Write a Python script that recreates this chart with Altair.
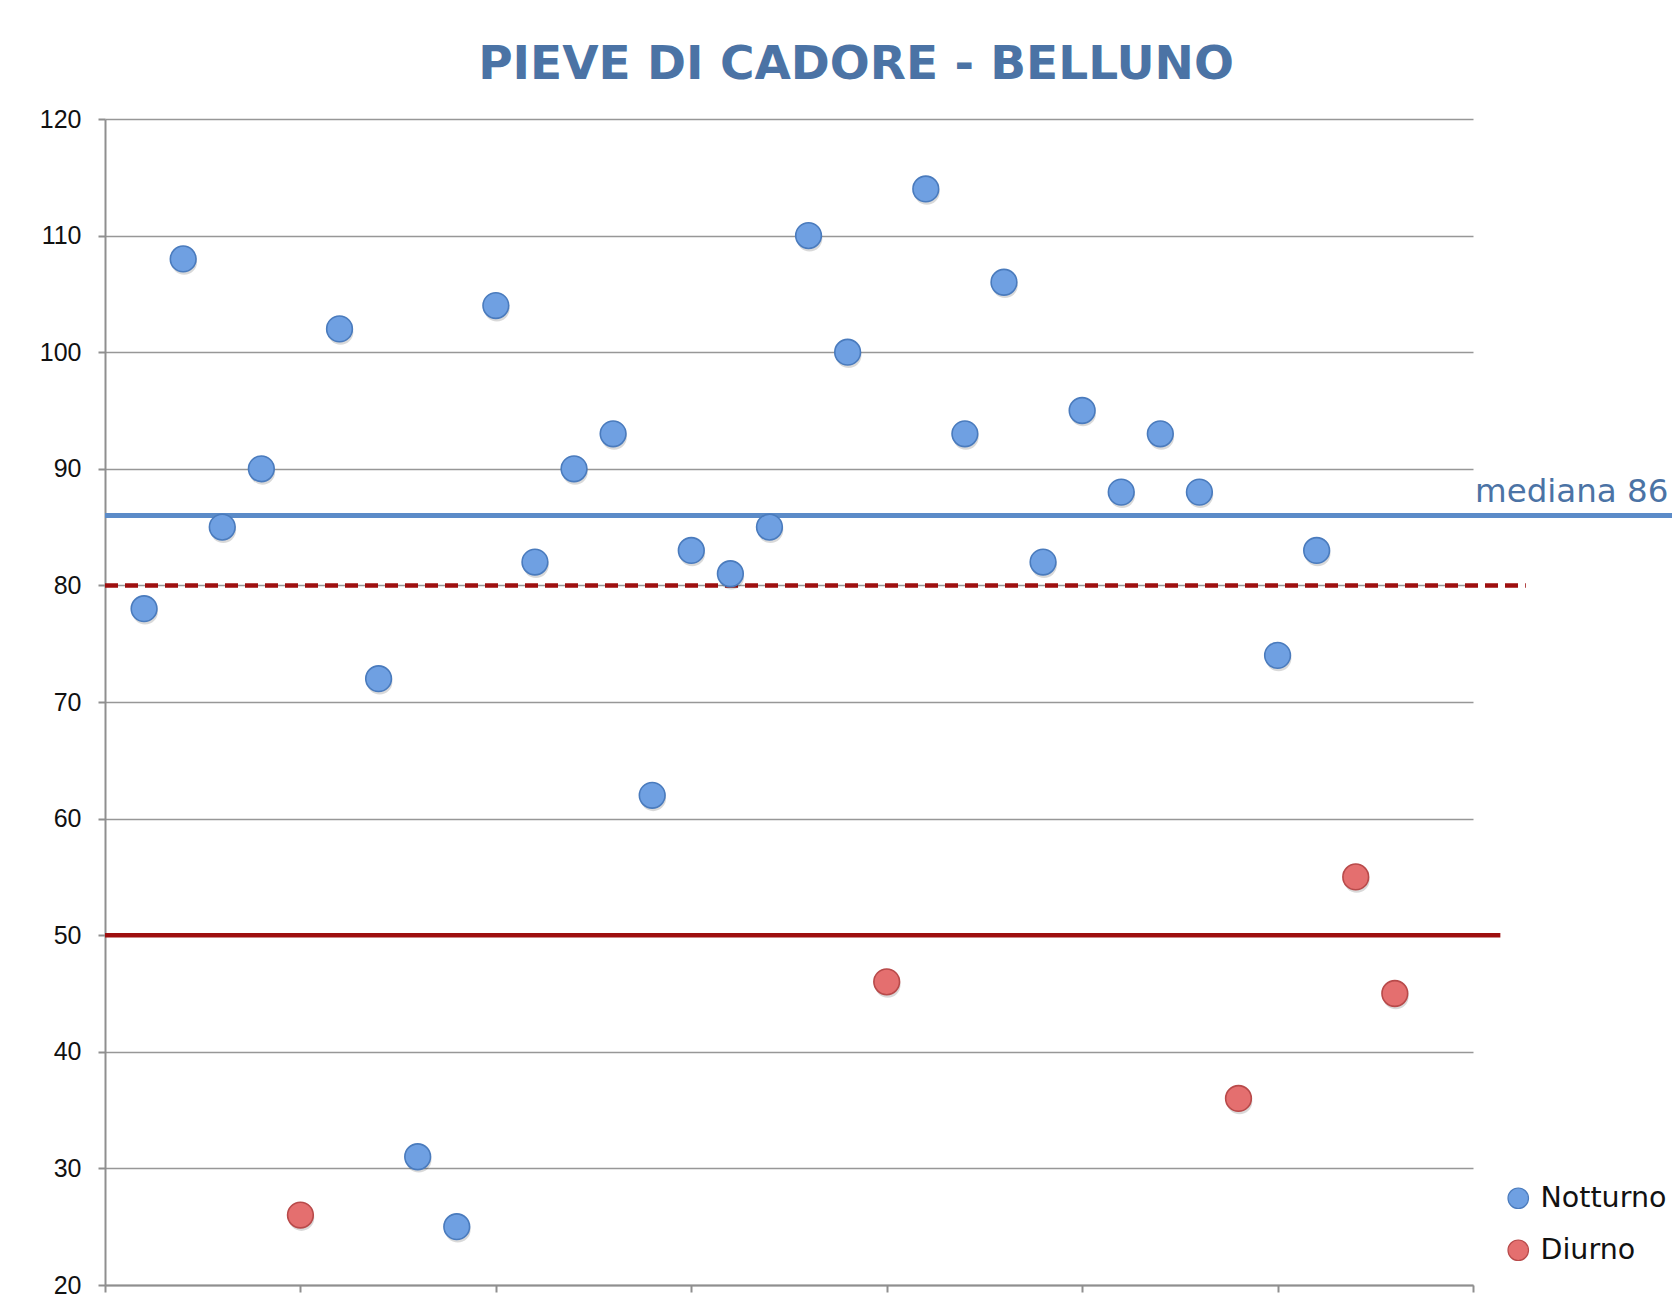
import altair as alt
import pandas as pd

# ---- data ----
idx = list(range(1, 34))
values = [78, 108, 85, 90, 26, 102, 72, 31, 25, 104, 82, 90, 93, 62, 83, 81, 85,
          110, 100, 46, 114, 93, 106, 82, 95, 88, 93, 88, 36, 74, 83, 55, 45]
period = ["Notturno", "Notturno", "Notturno", "Notturno", "Diurno", "Notturno",
          "Notturno", "Notturno", "Notturno", "Notturno", "Notturno", "Notturno",
          "Notturno", "Notturno", "Notturno", "Notturno", "Notturno", "Notturno",
          "Notturno", "Diurno", "Notturno", "Notturno", "Notturno", "Notturno",
          "Notturno", "Notturno", "Notturno", "Notturno", "Diurno", "Notturno",
          "Notturno", "Diurno", "Diurno"]

categories = ["Notturno", "Diurno"]
fill_colors = ["#6fa0e2", "#e46f6f"]
stroke_colors = ["#4a7bbd", "#b84a4a"]

y_ticks = [20, 30, 40, 50, 60, 70, 80, 90, 100, 110, 120]
x_ticks = [0, 5, 10, 15, 20, 25, 30, 35]

median_value = 86
median_label = "mediana 86"
threshold_night = 80
threshold_day = 50

df = pd.DataFrame({"n": idx, "v": values, "p": period})

W, H = 1368, 1166

x_scale = alt.Scale(domain=[0, 35], nice=False, zero=False)
y_scale = alt.Scale(domain=[20, 120], nice=False, zero=False)

base = alt.Chart(df)

x_enc = alt.X("n:Q", scale=x_scale,
              axis=alt.Axis(values=x_ticks, labels=False, title=None, grid=False,
                            domainColor="#8f8f8f", domainWidth=2, tickColor="#8f8f8f",
                            tickWidth=2, tickSize=7))
y_enc = alt.Y("v:Q", scale=y_scale,
              axis=alt.Axis(values=y_ticks, title=None, grid=True, gridColor="#979797",
                            gridWidth=1.6, domainColor="#8f8f8f", domainWidth=2,
                            tickColor="#8f8f8f", tickWidth=2, tickSize=7,
                            labelFont="Liberation Sans", labelFontSize=25,
                            labelColor="#111111", labelPadding=17))

shadow = base.mark_circle(size=660, color="#000000", opacity=0.15,
                          xOffset=1, yOffset=3).encode(x=x_enc, y=y_enc)

legend_kw = dict(title=None, orient="none", legendX=1399, legendY=1065,
                 labelFont="DejaVu Sans", labelFontSize=28.5,
                 labelColor="#111111", symbolType="circle",
                 symbolSize=420, labelOffset=8, rowPadding=23,
                 padding=0, symbolStrokeWidth=1.2)

pts = base.mark_point(filled=True, size=660, strokeWidth=1.6, opacity=1).encode(
    x=x_enc, y=y_enc,
    fill=alt.Fill("p:N", scale=alt.Scale(domain=categories, range=fill_colors),
                  legend=alt.Legend(**legend_kw)),
    stroke=alt.Stroke("p:N", scale=alt.Scale(domain=categories, range=stroke_colors),
                      legend=alt.Legend(**legend_kw)),
)

lines_df = pd.DataFrame({
    "y": [median_value, threshold_night, threshold_day],
    "x0": [0, 0, 0],
    "x1": [40.3, 36.35, 35.7],
    "kind": ["median", "night", "day"],
})

median_rule = alt.Chart(lines_df[lines_df.kind == "median"]).mark_rule(
    color="#5b8bc8", strokeWidth=5, clip=False).encode(
    x=alt.X("x0:Q", scale=x_scale), x2="x1:Q", y=alt.Y("y:Q", scale=y_scale))

night_rule = alt.Chart(lines_df[lines_df.kind == "night"]).mark_rule(
    color="#9e0f0f", strokeWidth=4.5, strokeDash=[13, 7], clip=False).encode(
    x=alt.X("x0:Q", scale=x_scale), x2="x1:Q", y=alt.Y("y:Q", scale=y_scale))

day_rule = alt.Chart(lines_df[lines_df.kind == "day"]).mark_rule(
    color="#9e0f0f", strokeWidth=4.5, clip=False).encode(
    x=alt.X("x0:Q", scale=x_scale), x2="x1:Q", y=alt.Y("y:Q", scale=y_scale))

label_df = pd.DataFrame({"y": [median_value], "t": [median_label], "x": [40.0]})
median_text = alt.Chart(label_df).mark_text(
    align="right", baseline="alphabetic", dy=-13, font="DejaVu Sans", fontSize=32.5,
    color="#4b73a5", clip=False).encode(
    x=alt.X("x:Q", scale=x_scale), y=alt.Y("y:Q", scale=y_scale), text="t:N")

chart = alt.layer(
    median_rule, night_rule, day_rule, shadow, pts, median_text
).properties(
    width=W, height=H,
    title=alt.TitleParams("PIEVE DI CADORE - BELLUNO", font="DejaVu Sans",
                          fontSize=47, fontWeight="bold", color="#4b73a5",
                          anchor="middle", dx=67, dy=46, baseline="alphabetic", offset=27),
    autosize=alt.AutoSizeParams(type="none"),
    padding={"left": 97, "top": 111, "right": 199, "bottom": 15},
    background="white",
).configure_view(stroke=None)

chart.save("out.html", embed_options={"renderer": "svg", "actions": False})
